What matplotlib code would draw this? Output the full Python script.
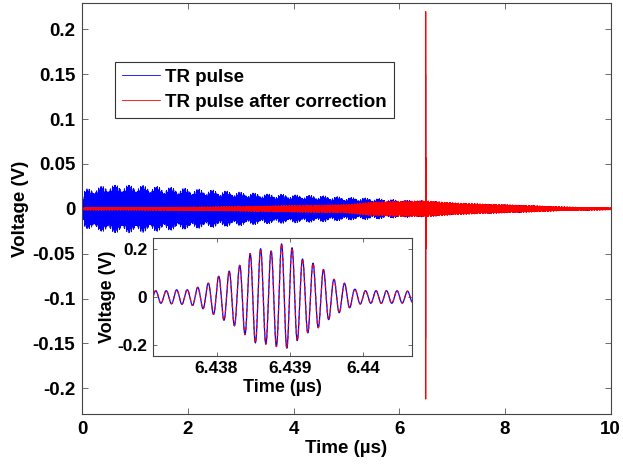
import numpy as np
import matplotlib
matplotlib.use('Agg')
import matplotlib.pyplot as plt
from matplotlib.ticker import FormatStrFormatter

plt.rcParams['font.family'] = ['Liberation Sans', 'DejaVu Sans']
plt.rcParams['font.weight'] = 'bold'

# ---- data ----
# envelope (half peak-to-peak amplitude, V) of the long records
env_t = [0.0, 0.05, 0.5, 1.0, 1.5, 2.0, 2.5, 3.0, 3.5, 4.0, 4.5, 5.0, 5.5,
         6.0, 6.5, 7.0, 7.5, 8.0, 8.5, 9.0, 9.5, 10.0]
blue_env = [0.004, 0.022, 0.027, 0.027, 0.025, 0.023, 0.021, 0.019, 0.017,
            0.016, 0.015, 0.013, 0.012, 0.010, 0.009, 0.0067, 0.0055, 0.0045,
            0.0035, 0.0022, 0.0015, 0.001]
red_env = [0.0008, 0.0012, 0.0012, 0.0012, 0.0015, 0.0018, 0.002, 0.0024,
           0.003, 0.0035, 0.004, 0.0045, 0.0075, 0.0085, 0.009, 0.0067,
           0.0055, 0.0045, 0.0035, 0.0022, 0.0015, 0.001]

# focused pulse: amplitude of successive carrier peaks around the focus
pulse_k = list(range(-12, 13))
pulse_amp = [0.026, 0.026, 0.030, 0.030, 0.040, 0.057, 0.086, 0.107, 0.131,
             0.180, 0.200, 0.190, 0.220, 0.204, 0.157, 0.140, 0.114, 0.073,
             0.057, 0.032, 0.026, 0.026, 0.026, 0.026, 0.024]
pulse_t0 = 6.438887     # time of the largest peak in the zoomed view (us)
main_focus_t = 6.50     # where the focus spike sits on the full time axis (us)
blue_focus_peak = 0.15  # peak of the uncorrected spike on the full view (V)
red_focus_peak = 0.22   # peak of the corrected spike on the full view (V)
pulse_T = 1.43e-4       # carrier period (us)

main_xticks = [0, 2, 4, 6, 8, 10]
main_yticks = [-0.2, -0.15, -0.1, -0.05, 0, 0.05, 0.1, 0.15, 0.2]
inset_xticks = [6.438, 6.439, 6.44]
inset_yticks = [-0.2, 0, 0.2]

FS = 13.5
FSI = 12.5

# ---- build waveforms ----
def pulse(tt, t0):
    kt = t0 + np.array(pulse_k) * pulse_T
    env = np.interp(tt, kt, pulse_amp, left=pulse_amp[0], right=pulse_amp[-1])
    return env * np.cos(2 * np.pi * (tt - t0) / pulse_T)

t = np.linspace(0, 10, 20001)
carrier = np.sin(2 * np.pi * 1234.567 * t)
mod_b = (0.45 + 0.55 * np.abs(np.cos(2 * np.pi * 11.3 * t))) * \
        (0.7 + 0.3 * np.abs(np.sin(2 * np.pi * 1.9 * t + 0.4)))
mod_r = 0.4 + 0.6 * np.abs(np.cos(2 * np.pi * 9.7 * t))
yb = np.interp(t, env_t, blue_env) * carrier * mod_b
yr = np.interp(t, env_t, red_env) * carrier * mod_r

half = 0.002
tp = np.linspace(main_focus_t - half, main_focus_t + half, 3000)
yp = pulse(tp, main_focus_t) / max(pulse_amp)
keep = (t < tp[0]) | (t > tp[-1])
tm = np.concatenate([t[keep], tp]); order = np.argsort(tm)
tm = tm[order]
ybm = np.concatenate([yb[keep], yp * blue_focus_peak])[order]
yrm = np.concatenate([yr[keep], yp * red_focus_peak])[order]

# zoomed record
ti = np.linspace(6.4369, 6.4409, 3000)
yi = pulse(ti, pulse_t0)

# ---- figure ----
fig = plt.figure(figsize=(6.23, 4.66), dpi=100)
ax = fig.add_axes([0.1321, 0.1109, 0.8482, 0.882])
ax.plot(tm, ybm, color='#0000ff', lw=0.5, label='TR pulse')
ax.plot(tm, yrm, color='#ff0000', lw=0.7, label='TR pulse after correction')
ax.set_xlim(0, 10)
ax.set_ylim(-0.229, 0.229)
ax.set_xticks(main_xticks)
ax.set_yticks(main_yticks)
ax.xaxis.set_major_formatter(FormatStrFormatter('%g'))
ax.yaxis.set_major_formatter(FormatStrFormatter('%g'))
ax.set_xlabel('Time (µs)', fontsize=FS, fontweight='bold')
ax.set_ylabel('Voltage (V)', fontsize=FS, fontweight='bold')
ax.xaxis.set_label_coords(0.5, -0.063)
ax.yaxis.set_label_coords(-0.100, 0.5)

ax.tick_params(direction='in', top=True, right=True, length=4, width=0.6,
               labelsize=FS, color='#555555', pad=5)
for s in ax.spines.values():
    s.set_color('#444444'); s.set_linewidth(0.8)

leg = ax.legend(loc='upper left', bbox_to_anchor=(0.062, 0.858), borderaxespad=0,
                fancybox=False, edgecolor='#333333', framealpha=1,
                handlelength=2.0, handletextpad=0.3, borderpad=0.38,
                labelspacing=0.42, prop={'size': FS, 'weight': 'bold'})
leg.get_frame().set_linewidth(0.8)
for h in leg.get_lines():
    h.set_linewidth(0.6)

axi = fig.add_axes([0.2451, 0.2367, 0.4157, 0.2519])
axi.plot(ti, yi, color='#0000ff', lw=0.9)
axi.plot(ti, yi, color='#ff0000', lw=0.9, dashes=(2.5, 2.5))
axi.set_xlim(6.43713, 6.44066)
axi.set_ylim(-0.243, 0.243)
axi.set_xticks(inset_xticks)
axi.set_yticks(inset_yticks)
axi.xaxis.set_major_formatter(FormatStrFormatter('%g'))
axi.yaxis.set_major_formatter(FormatStrFormatter('%g'))
axi.tick_params(direction='in', top=True, right=True, length=3, width=0.6,
                labelsize=FSI, color='#555555', pad=4)
for s in axi.spines.values():
    s.set_color('#444444'); s.set_linewidth(0.8)
axi.set_xlabel('Time (µs)', fontsize=FSI + 0.5, fontweight='bold', labelpad=2)
axi.set_ylabel('Voltage (V)', fontsize=FSI + 0.5, fontweight='bold', labelpad=1)

fig.savefig('out.png', dpi=100)
